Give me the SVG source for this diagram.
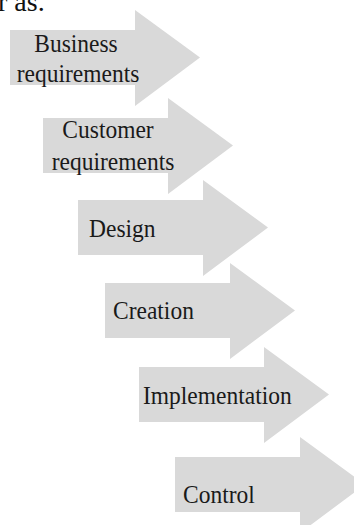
<svg xmlns="http://www.w3.org/2000/svg" width="354" height="525" viewBox="0 0 354 525">
  <style>
    .step { fill: #d9d9d9; }
    .lbl { font-family: "Liberation Serif", "Times New Roman", serif; font-size: 23.5px; fill: #1a1a1a; }
    .top { font-family: "Liberation Serif", "Times New Roman", serif; font-size: 28px; fill: #111; }
  </style>
  <defs>
    <!-- block arrow: body 125x55, head 65 long, 96 tall -->
    <path id="arrow" d="M0 0 H125 V-20 L190 27.5 L125 76 V55 H0 Z"/>
  </defs>

  <!-- tail of the preceding line of text -->
  <text class="top" x="-2" y="11">r as.</text>

  <g id="step-business">
    <use href="#arrow" class="step" transform="translate(10 30)"/>
    <text class="lbl" text-anchor="middle" transform="matrix(1 0 0 1.1 76 52)">Business</text>
    <text class="lbl" text-anchor="middle" transform="matrix(1 0 0 1.1 78 82)">requirements</text>
  </g>
  <g id="step-customer">
    <use href="#arrow" class="step" transform="translate(43 118)"/>
    <text class="lbl" text-anchor="middle" transform="matrix(1 0 0 1.1 108 138)">Customer</text>
    <text class="lbl" text-anchor="middle" transform="matrix(1 0 0 1.1 113 170)">requirements</text>
  </g>
  <g id="step-design">
    <use href="#arrow" class="step" transform="translate(78 200)"/>
    <text class="lbl" transform="matrix(1 0 0 1.1 89 237)">Design</text>
  </g>
  <g id="step-creation">
    <use href="#arrow" class="step" transform="translate(105 283)"/>
    <text class="lbl" transform="matrix(1 0 0 1.1 113 319)">Creation</text>
  </g>
  <g id="step-implementation">
    <use href="#arrow" class="step" transform="translate(139 367)"/>
    <text class="lbl" transform="matrix(1 0 0 1.1 143 404)">Implementation</text>
  </g>
  <g id="step-control">
    <use href="#arrow" class="step" transform="translate(175 457)"/>
    <text class="lbl" transform="matrix(1 0 0 1.1 183 503)">Control</text>
  </g>
  <g id="connectors"/>
</svg>
